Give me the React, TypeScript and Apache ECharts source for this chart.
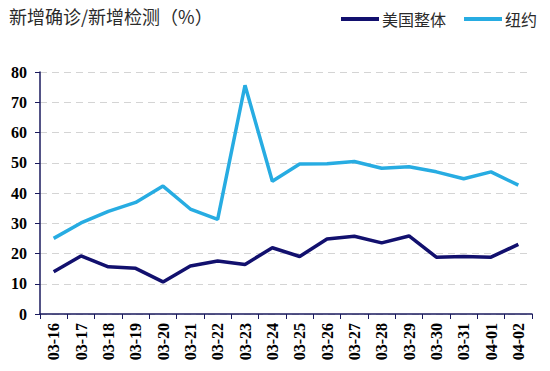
import React, { useEffect, useRef } from "react";
import * as echarts from "echarts";

const categories = ["03-16","03-17","03-18","03-19","03-20","03-21","03-22","03-23","03-24","03-25","03-26","03-27","03-28","03-29","03-30","03-31","04-01","04-02"];
const usValues = [14.0,19.2,15.6,15.1,10.6,15.9,17.5,16.4,21.9,19.0,24.8,25.7,23.5,25.8,18.8,19.0,18.8,23.0];
const nyValues = [25.0,30.1,33.9,36.9,42.3,34.7,31.3,75.6,43.9,49.6,49.7,50.4,48.2,48.7,47.0,44.7,47.0,42.6];
const yTicks = { min: 0, max: 80, interval: 10 };
const seriesNames = ["美国整体", "纽约"];
const titleText = "新增确诊/新增检测（%）";

export default function App() {
  const ref = useRef<HTMLDivElement>(null);
  useEffect(() => {
    if (!ref.current) return;
    const chart = echarts.init(ref.current, undefined, { renderer: "svg" });
    const serif = "'Liberation Serif', 'Times New Roman', serif";
    const cjk = "'Noto Sans CJK SC', sans-serif";
    chart.setOption({
      animation: false,
      backgroundColor: "#ffffff",
      title: {
        text: titleText,
        left: 4,
        top: 2,
        textStyle: { fontFamily: cjk, fontSize: 18, fontWeight: "normal", color: "#2a2a2a" },
      },
      legend: {
        right: 8,
        top: 6,
        icon: "rect",
        itemWidth: 38,
        itemHeight: 4,
        itemGap: 18,
        textStyle: { fontFamily: cjk, fontSize: 16, color: "#2a2a2a", padding: [0, 0, 0, -2] },
        data: seriesNames,
      },
      grid: { left: 40, right: 18, top: 72, bottom: 57, containLabel: false },
      xAxis: {
        type: "category",
        data: categories,
        boundaryGap: true,
        axisLine: { lineStyle: { color: "#1a1a5e", width: 1.5 } },
        axisTick: { show: true, alignWithLabel: false, length: 5, lineStyle: { color: "#1a1a5e" } },
        axisLabel: {
          rotate: 90,
          interval: 0,
          margin: 9,
          fontFamily: serif,
          fontWeight: "bold",
          fontSize: 16,
          color: "#000000",
        },
        splitLine: { show: false },
      },
      yAxis: {
        type: "value",
        min: yTicks.min,
        max: yTicks.max,
        interval: yTicks.interval,
        axisLine: { show: true, lineStyle: { color: "#1a1a5e", width: 1.5 } },
        axisTick: { show: true, length: 5, lineStyle: { color: "#1a1a5e" } },
        axisLabel: {
          margin: 13,
          fontFamily: serif,
          fontWeight: "bold",
          fontSize: 16,
          color: "#000000",
        },
        splitLine: { show: true, lineStyle: { color: "#d4d4d4", type: [7, 5], width: 1 } },
      },
      series: [
        {
          name: seriesNames[0],
          type: "line",
          data: usValues,
          symbol: "none",
          lineStyle: { color: "#12106e", width: 3.5 },
          itemStyle: { color: "#12106e" },
        },
        {
          name: seriesNames[1],
          type: "line",
          data: nyValues,
          symbol: "none",
          lineStyle: { color: "#27ace2", width: 3.5 },
          itemStyle: { color: "#27ace2" },
        },
      ],
    });
    return () => chart.dispose();
  }, []);
  return <div ref={ref} style={{ width: 550, height: 371, position: "absolute", left: 0, top: 0 }} />;
}
